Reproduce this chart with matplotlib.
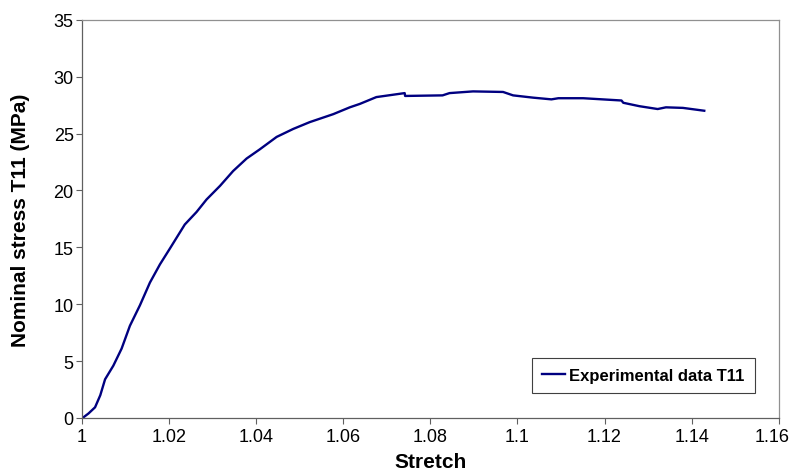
import matplotlib
matplotlib.use("Agg")
import matplotlib.pyplot as plt
from matplotlib.transforms import ScaledTranslation

plt.rcParams.update({
    "font.family": ["Liberation Sans", "DejaVu Sans"],
    "font.size": 13,
})

# stretch / nominal stress T11 (MPa)
stretch = [1.0, 1.0003, 1.0015, 1.003, 1.0042, 1.0053, 1.0072, 1.0091, 1.011,
           1.0133, 1.0156, 1.0179, 1.0202, 1.0236, 1.0263, 1.0286, 1.0317,
           1.0347, 1.0378, 1.0408, 1.0447, 1.0485, 1.0523, 1.0577, 1.0615,
           1.0638, 1.0676, 1.0741, 1.0742, 1.0828, 1.0844, 1.0898, 1.0967,
           1.099, 1.1036, 1.1078, 1.1094, 1.1151, 1.1239, 1.1243, 1.128,
           1.1322, 1.1341, 1.138, 1.1429]
stress = [0.0, 0.05, 0.4, 0.94, 2.0, 3.4, 4.6, 6.1, 8.1,
          9.9, 11.9, 13.5, 14.9, 17.0, 18.1, 19.2, 20.4,
          21.7, 22.8, 23.6, 24.7, 25.4, 26.0, 26.7, 27.3,
          27.6, 28.2, 28.55, 28.3, 28.35, 28.55, 28.7, 28.65,
          28.35, 28.15, 28.0, 28.1, 28.1, 27.9, 27.7, 27.4,
          27.15, 27.3, 27.25, 27.0]

xticks = [1, 1.02, 1.04, 1.06, 1.08, 1.1, 1.12, 1.14, 1.16]
xticklabels = ["1", "1.02", "1.04", "1.06", "1.08", "1.1", "1.12", "1.14", "1.16"]
yticks = [0, 5, 10, 15, 20, 25, 30, 35]

fig = plt.figure(figsize=(7.93, 4.77), dpi=100)
ax = fig.add_axes([0.1034, 0.1216, 0.8786, 0.835])

ax.plot(stretch, stress, color="#000080", linewidth=1.7, label="Experimental data T11")

ax.set_xlim(1, 1.16)
ax.set_ylim(0, 35)
ax.set_xticks(xticks)
ax.set_xticklabels(xticklabels)
ax.set_yticks(yticks)
ax.tick_params(axis="both", labelsize=13, length=4, width=0.8, color="#606060", direction="out")
ax.tick_params(axis="y", pad=2)

# last x label sits left of its tick in the original, keep it inside the figure
last = ax.get_xticklabels()[-1]
last.set_transform(last.get_transform() + ScaledTranslation(-0.065, 0, fig.dpi_scale_trans))

for s in ax.spines.values():
    s.set_color("#909090")
    s.set_linewidth(0.9)
ax.spines["left"].set_color("#606060")
ax.spines["bottom"].set_color("#606060")

ax.set_xlabel("Stretch", fontsize=15, fontweight="bold", labelpad=5)
ax.set_ylabel("Nominal stress T11 (MPa)", fontsize=15, fontweight="bold", labelpad=17)

leg = ax.legend(loc="lower right", bbox_to_anchor=(0.9656, 0.063), borderaxespad=0,
                fancybox=False, edgecolor="#404040", framealpha=1,
                prop={"weight": "bold", "size": 12},
                handlelength=1.4, handletextpad=0.25, borderpad=0.6)
leg.get_frame().set_linewidth(0.8)

fig.savefig("out.png", dpi=100, facecolor="white")
